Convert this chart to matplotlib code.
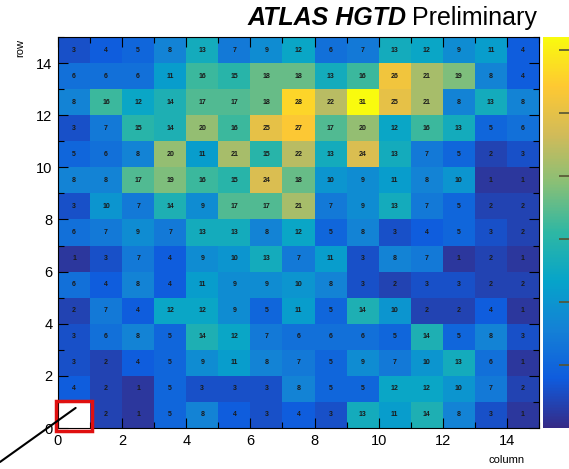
import numpy as np
import matplotlib
matplotlib.use('Agg')
import matplotlib.pyplot as plt
from matplotlib.colors import LinearSegmentedColormap
from matplotlib.patches import Rectangle
from matplotlib.ticker import MultipleLocator

# hit counts per pad, rows listed from 14 (top) down to 0
rows = list(range(14, -1, -1))
columns = list(range(15))
counts = [
    [3, 4, 5, 8, 13, 7, 9, 12, 6, 7, 13, 12, 9, 11, 4],
    [6, 6, 6, 11, 16, 15, 18, 18, 13, 16, 26, 21, 19, 8, 4],
    [8, 16, 12, 14, 17, 17, 18, 28, 22, 31, 25, 21, 8, 13, 8],
    [3, 7, 15, 14, 20, 16, 25, 27, 17, 20, 12, 16, 13, 5, 6],
    [5, 6, 8, 20, 11, 21, 15, 22, 13, 24, 13, 7, 5, 2, 3],
    [8, 8, 17, 19, 16, 15, 24, 18, 10, 9, 11, 8, 10, 1, 1],
    [3, 10, 7, 14, 9, 17, 17, 21, 7, 9, 13, 7, 5, 2, 2],
    [6, 7, 9, 7, 13, 13, 8, 12, 5, 8, 3, 4, 5, 3, 2],
    [1, 3, 7, 4, 9, 10, 13, 7, 11, 3, 8, 7, 1, 2, 1],
    [6, 4, 8, 4, 11, 9, 9, 10, 8, 3, 2, 3, 3, 2, 2],
    [2, 7, 4, 12, 12, 9, 5, 11, 5, 14, 10, 2, 2, 4, 1],
    [3, 6, 8, 5, 14, 12, 7, 6, 6, 6, 5, 14, 5, 8, 3],
    [3, 2, 4, 5, 9, 11, 8, 7, 5, 9, 7, 10, 13, 6, 1],
    [4, 2, 1, 5, 3, 3, 3, 8, 5, 5, 12, 12, 10, 7, 2],
    [0, 2, 1, 5, 8, 4, 3, 4, 3, 13, 11, 14, 8, 3, 1],
]

# ROOT kBird palette
stops = [0.0, 0.125, 0.25, 0.375, 0.5, 0.625, 0.75, 0.875, 1.0]
red = [0.2082, 0.0592, 0.0780, 0.0232, 0.1802, 0.5301, 0.8186, 0.9956, 0.9764]
green = [0.1664, 0.3599, 0.5041, 0.6419, 0.7178, 0.7492, 0.7328, 0.7862, 0.9832]
blue = [0.5293, 0.8684, 0.8385, 0.7914, 0.6425, 0.4662, 0.3499, 0.1968, 0.0539]
bird = LinearSegmentedColormap.from_list(
    'bird', list(zip(stops, zip(red, green, blue))))
bird.set_bad('white')

plt.rcParams['font.family'] = ['Liberation Sans', 'DejaVu Sans']

W, H = 569, 469
fig = plt.figure(figsize=(W / 100, H / 100), dpi=100)
ax = fig.add_axes([58 / W, 1 - 428 / H, 481 / W, 391 / H])

z = np.zeros((15, 15))
for r, line in zip(rows, counts):
    z[r, :] = line
zm = np.ma.masked_equal(z, 0)

mesh = ax.pcolormesh(np.arange(16), np.arange(16), zm, cmap=bird,
                     vmin=0, vmax=31)

for r, line in zip(rows, counts):
    for c, v in zip(columns, line):
        if v > 0:
            ax.text(c + 0.5, r + 0.5, str(v), ha='center', va='center',
                    fontsize=5, fontweight='bold', color='#1a1a1a')

ax.set_xlim(0, 15)
ax.set_ylim(0, 15)
ax.xaxis.set_major_locator(MultipleLocator(2))
ax.yaxis.set_major_locator(MultipleLocator(2))
ax.xaxis.set_minor_locator(MultipleLocator(1))
ax.yaxis.set_minor_locator(MultipleLocator(1))
ax.tick_params(which='both', direction='in', top=True, right=True,
               labelsize=10.5, pad=4)
ax.tick_params(which='major', length=7, width=0.8)
ax.tick_params(which='minor', length=4, width=0.8)
for s in ax.spines.values():
    s.set_linewidth(0.8)

fig.text(525 / W, 1 - 460 / H, 'column', ha='right', va='center', fontsize=8)
fig.text(20 / W, 1 - 48 / H, 'row', ha='center', va='center', fontsize=8,
         rotation=90)

# highlighted pad with pointer line
ax.add_patch(Rectangle((-0.05, -0.1), 1.1, 1.15, fill=False, edgecolor='#e01010',
                       lw=2.5, clip_on=False, zorder=5))
ax.annotate('', xy=(0.55, 0.77), xycoords='data',
            xytext=(0.0, 1 - 462 / H), textcoords='figure fraction',
            arrowprops=dict(arrowstyle='-', color='black', lw=1.5,
                            shrinkA=0, shrinkB=0), zorder=6)

cax = fig.add_axes([543 / W, 1 - 428 / H, 30 / W, 391 / H])
cb = fig.colorbar(mesh, cax=cax)
cb.outline.set_visible(False)
cb.set_ticks([5, 10, 15, 20, 25, 30])
cax.tick_params(direction='in', length=10, width=1.2, color='#555533',
                labelright=False)

# title: bold italic experiment name followed by the status word
prelim = fig.text(537 / W, 1 - 18 / H, 'Preliminary', fontsize=18,
                  ha='right', va='center')
fig.canvas.draw()
bb = prelim.get_window_extent()
fig.text((bb.x0 - 6) / W, 1 - 18 / H, 'ATLAS HGTD', fontsize=18,
         fontweight='bold', fontstyle='italic', ha='right', va='center')

fig.savefig('out.png', dpi=100)
